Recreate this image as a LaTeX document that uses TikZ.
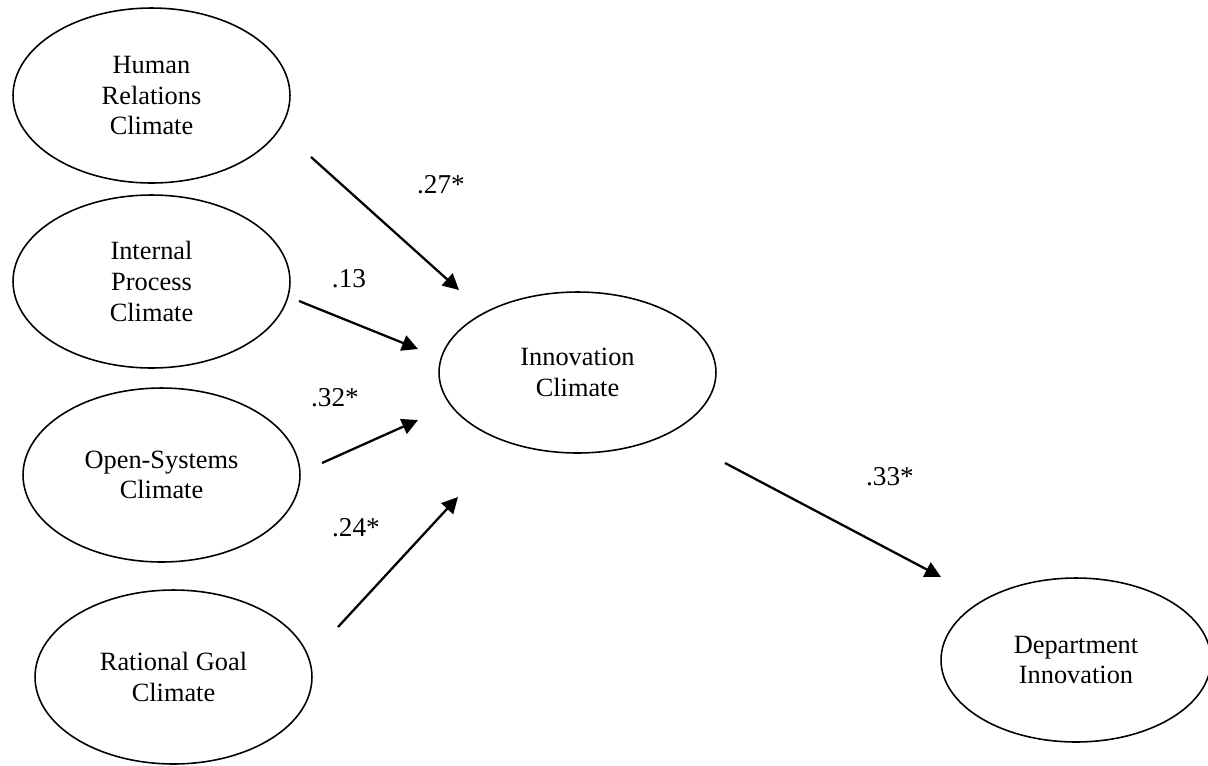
\documentclass[tikz,border=0pt]{standalone}
\usepackage{fontspec}
\setmainfont{Liberation Serif}
\usetikzlibrary{shapes.geometric,arrows.meta}
\tikzset{
    climate/.style={draw,ellipse,line width=0.9pt,align=center,inner sep=0pt,
        minimum width=5.54cm,minimum height=3.48cm,
        font=\fontsize{15}{17.5}\selectfont},
    path/.style={line width=1.3pt,-{Triangle[length=0.32cm,width=0.32cm]}},
    coef/.style={font=\fontsize{15.5}{18}\selectfont,inner sep=0pt}
}
\begin{document}
\begin{tikzpicture}[x=0.02cm,y=-0.02cm]
        \useasboundingbox (0,0) rectangle (1208,765);

        \node[climate,minimum height=3.5cm] (hr) at (151.5,95.5) {Human\\Relations\\Climate};
        \node[climate,minimum height=3.46cm] (ip) at (151.5,281.5) {Internal\\Process\\Climate};
        \node[climate] (os) at (161.5,475) {Open-Systems\\Climate};
        \node[climate] (rg) at (173.5,677) {Rational Goal\\Climate};
        \node[climate,minimum height=3.22cm] (ic) at (577.5,372.5) {Innovation\\Climate};
        \node[climate,minimum width=5.4cm,minimum height=3.28cm] (di) at (1076,660) {Department\\Innovation};

        \coordinate (hr-out) at (311,157);
        \coordinate (ip-out) at (299,301);
        \coordinate (os-out) at (322,463);
        \coordinate (rg-out) at (338,627);
        \coordinate (ic-in1) at (459,290);
        \coordinate (ic-in2) at (418,349);
        \coordinate (ic-in3) at (418,420);
        \coordinate (ic-in4) at (458,497);
        \coordinate (ic-out) at (725,463);
        \coordinate (di-in) at (941,577);

        \draw[path] (hr-out) -- (ic-in1);
        \draw[path] (ip-out) -- (ic-in2);
        \draw[path] (os-out) -- (ic-in3);
        \draw[path] (rg-out) -- (ic-in4);
        \draw[path] (ic-out) -- (di-in);

        \node[coef] (b1) at (441,185) {.27*};
        \node[coef] (b2) at (349,279) {.13};
        \node[coef] (b3) at (335,398) {.32*};
        \node[coef] (b4) at (356,528) {.24*};
        \node[coef] (b5) at (890,477) {.33*};
    \end{tikzpicture}
\end{document}
